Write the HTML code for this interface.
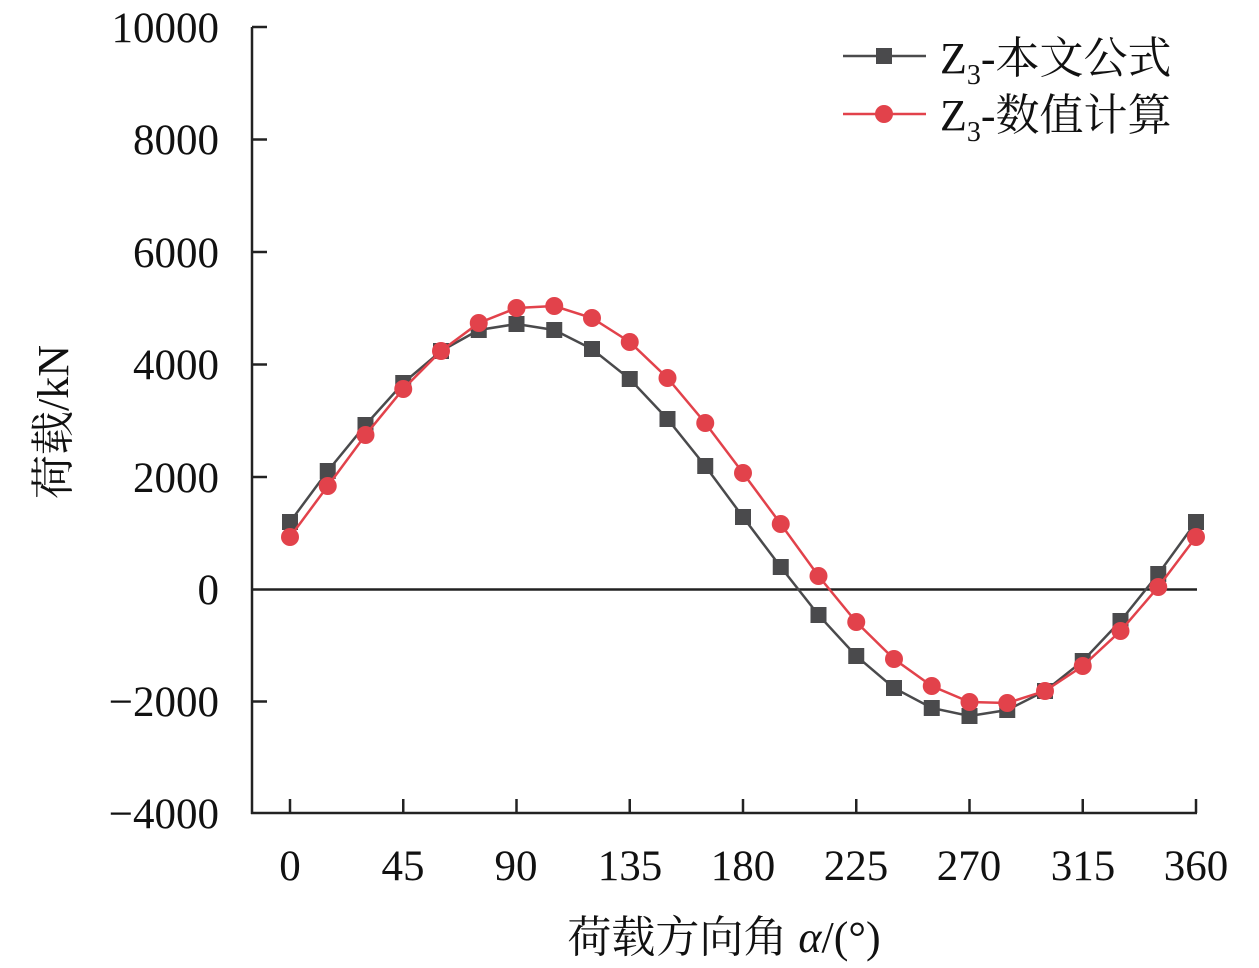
<!DOCTYPE html>
<html><head><meta charset="utf-8"><style>
html,body{margin:0;padding:0;background:#fff;}
svg{display:block;}
text{font-family:"Liberation Serif","Noto Serif CJK SC",serif;fill:#111;}
</style></head><body>
<svg width="1259" height="968" viewBox="0 0 1259 968" xmlns="http://www.w3.org/2000/svg">
<g stroke="#222" stroke-width="2.5" fill="none">
<line x1="252" y1="27" x2="252" y2="814"/>
<line x1="251" y1="813" x2="1197" y2="813"/>
<line x1="252" y1="27" x2="267" y2="27"/>
<line x1="252" y1="139.5" x2="267" y2="139.5"/>
<line x1="252" y1="252" x2="267" y2="252"/>
<line x1="252" y1="364.5" x2="267" y2="364.5"/>
<line x1="252" y1="477" x2="267" y2="477"/>
<line x1="252" y1="701.5" x2="267" y2="701.5"/>
<line x1="290" y1="813" x2="290" y2="799"/>
<line x1="403.25" y1="813" x2="403.25" y2="799"/>
<line x1="516.5" y1="813" x2="516.5" y2="799"/>
<line x1="629.75" y1="813" x2="629.75" y2="799"/>
<line x1="743" y1="813" x2="743" y2="799"/>
<line x1="856.25" y1="813" x2="856.25" y2="799"/>
<line x1="969.5" y1="813" x2="969.5" y2="799"/>
<line x1="1082.75" y1="813" x2="1082.75" y2="799"/>
<line x1="1196" y1="813" x2="1196" y2="799"/>
<line x1="252" y1="589.5" x2="1197" y2="589.5"/>
</g>
<g font-size="43" text-anchor="end">
<text x="219" y="42">10000</text>
<text x="219" y="154">8000</text>
<text x="219" y="267">6000</text>
<text x="219" y="379">4000</text>
<text x="219" y="492">2000</text>
<text x="219" y="604">0</text>
<text x="219" y="716">−2000</text>
<text x="219" y="828">−4000</text>
</g>
<g font-size="43" text-anchor="middle">
<text x="290" y="880">0</text>
<text x="403" y="880">45</text>
<text x="516" y="880">90</text>
<text x="630" y="880">135</text>
<text x="743" y="880">180</text>
<text x="856" y="880">225</text>
<text x="969" y="880">270</text>
<text x="1083" y="880">315</text>
<text x="1196" y="880">360</text>
<text x="724" y="952" font-size="44">荷载方向角 <tspan font-style="italic">α</tspan>/(°)</text>
<text transform="translate(68,422) rotate(-90)" font-size="44">荷载/kN</text>
</g>
<polyline fill="none" stroke="#4a4a4c" stroke-width="2.5" points="290,522 327.75,471 365.5,425 403.25,383 441,351 478.75,330 516.5,324 554.25,330 592,349 629.75,379 667.5,419 705.25,466 743,517 780.75,567 818.5,615 856.25,656 894,688 931.75,708 969.5,716 1007.25,710 1045,691 1082.75,661 1120.5,621 1158.25,574 1196,522"/>
<g fill="#4a4a4c">
<rect x="282" y="514" width="16" height="16"/><rect x="319.75" y="463" width="16" height="16"/><rect x="357.5" y="417" width="16" height="16"/><rect x="395.25" y="375" width="16" height="16"/><rect x="433" y="343" width="16" height="16"/><rect x="470.75" y="322" width="16" height="16"/><rect x="508.5" y="316" width="16" height="16"/><rect x="546.25" y="322" width="16" height="16"/><rect x="584" y="341" width="16" height="16"/><rect x="621.75" y="371" width="16" height="16"/><rect x="659.5" y="411" width="16" height="16"/><rect x="697.25" y="458" width="16" height="16"/><rect x="735" y="509" width="16" height="16"/><rect x="772.75" y="559" width="16" height="16"/><rect x="810.5" y="607" width="16" height="16"/><rect x="848.25" y="648" width="16" height="16"/><rect x="886" y="680" width="16" height="16"/><rect x="923.75" y="700" width="16" height="16"/><rect x="961.5" y="708" width="16" height="16"/><rect x="999.25" y="702" width="16" height="16"/><rect x="1037" y="683" width="16" height="16"/><rect x="1074.75" y="653" width="16" height="16"/><rect x="1112.5" y="613" width="16" height="16"/><rect x="1150.25" y="566" width="16" height="16"/><rect x="1188" y="514" width="16" height="16"/>
</g>
<polyline fill="none" stroke="#e2424b" stroke-width="2.5" points="290,537 327.75,486 365.5,435 403.25,389 441,351 478.75,323 516.5,308 554.25,306 592,318 629.75,342 667.5,378 705.25,423 743,473 780.75,524 818.5,576 856.25,622 894,659 931.75,686 969.5,702 1007.25,703 1045,691 1082.75,666 1120.5,631 1158.25,587 1196,537"/>
<g fill="#e2424b">
<circle cx="290" cy="537" r="9"/><circle cx="327.75" cy="486" r="9"/><circle cx="365.5" cy="435" r="9"/><circle cx="403.25" cy="389" r="9"/><circle cx="441" cy="351" r="9"/><circle cx="478.75" cy="323" r="9"/><circle cx="516.5" cy="308" r="9"/><circle cx="554.25" cy="306" r="9"/><circle cx="592" cy="318" r="9"/><circle cx="629.75" cy="342" r="9"/><circle cx="667.5" cy="378" r="9"/><circle cx="705.25" cy="423" r="9"/><circle cx="743" cy="473" r="9"/><circle cx="780.75" cy="524" r="9"/><circle cx="818.5" cy="576" r="9"/><circle cx="856.25" cy="622" r="9"/><circle cx="894" cy="659" r="9"/><circle cx="931.75" cy="686" r="9"/><circle cx="969.5" cy="702" r="9"/><circle cx="1007.25" cy="703" r="9"/><circle cx="1045" cy="691" r="9"/><circle cx="1082.75" cy="666" r="9"/><circle cx="1120.5" cy="631" r="9"/><circle cx="1158.25" cy="587" r="9"/><circle cx="1196" cy="537" r="9"/>
</g>
<line x1="843" y1="56" x2="926" y2="56" stroke="#4a4a4c" stroke-width="2.5"/>
<rect x="876" y="48" width="16" height="16" fill="#4a4a4c"/>
<line x1="843" y1="114" x2="926" y2="114" stroke="#e2424b" stroke-width="2.5"/>
<circle cx="884" cy="114" r="9" fill="#e2424b"/>
<g font-size="44">
<text x="940" y="73">Z<tspan font-size="28" dy="11">3</tspan><tspan dy="-11">-本文公式</tspan></text>
<text x="940" y="130">Z<tspan font-size="28" dy="11">3</tspan><tspan dy="-11">-数值计算</tspan></text>
</g>
</svg>
</body></html>
